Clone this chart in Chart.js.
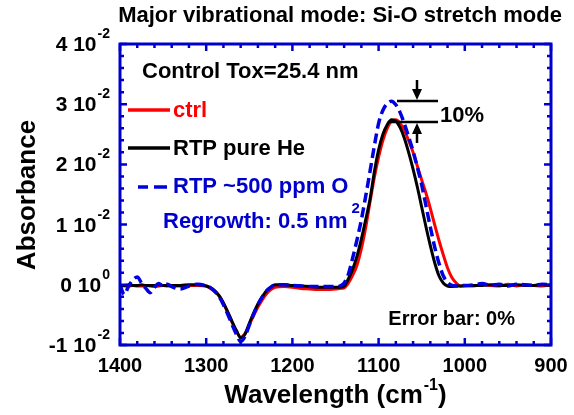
<!DOCTYPE html>
<html>
<head>
<meta charset="utf-8">
<script src="https://cdn.jsdelivr.net/npm/chart.js@4.4.1/dist/chart.umd.min.js"></script>
<style>
body { margin: 0; background: #fff; }
</style>
</head>
<body>
<canvas id="spectrum" width="574" height="415"></canvas>
<script>
// wavenumber (cm-1) and absorbance
var wavenumber = [1400,1395,1390,1385,1380,1375,1370,1365,1360,1355,1350,1345,1340,
  1330,1320,1310,
  1300,1295,1290,1285,1280,1275,1270,1265,1260,1255,1250,1245,1240,1235,1230,1225,1220,
  1210,1200,1190,1180,1170,1160,1150,
  1145,1140,1135,1130,1125,1120,1115,1110,1105,1100,1095,1090,1085,1080,1075,1070,1065,1060,1055,1050,1045,1040,1035,1030,1025,1020,1015,1010,1005,1000,
  990,980,970,960,950,940,930,920,910,900];

var ctrl = [-0.0001,-0.0002,-0.0002,-0.0001,-0.0002,-0.0002,-0.0001,-0.0002,-0.0003,-0.0002,-0.0001,-0.0002,-0.0002,
  -0.0002,-0.0001,-0.0001,
  -0.0002,-0.0006,-0.0011,-0.0019,-0.0031,-0.0046,-0.0062,-0.0077,-0.0087,-0.0081,-0.0066,-0.0051,-0.0037,-0.0025,-0.0015,-0.0008,-0.0004,
  -0.0003,-0.0004,-0.0006,-0.0007,-0.0008,-0.0008,-0.0007,
  -0.0006,-0.0005,0.0003,0.0016,0.0033,0.0060,0.0095,0.0137,0.0178,0.0212,0.0240,0.0260,0.0272,0.0274,0.0268,0.0256,0.0239,0.0220,0.0197,0.0174,0.0152,0.0127,0.0100,0.0074,0.0050,0.0028,0.0012,0.0003,-0.0002,-0.0002,
  -0.0002,0.0000,-0.0001,-0.0002,0.0001,-0.0002,0.0000,-0.0001,-0.0002,0.0000];

var pureHe = [-0.0001,-0.0001,0.0000,-0.0001,-0.0001,0.0000,-0.0001,-0.0001,-0.0001,0.0000,-0.0001,-0.0001,-0.0001,
  -0.0001,0.0000,0.0000,
  -0.0002,-0.0005,-0.0010,-0.0018,-0.0030,-0.0045,-0.0061,-0.0076,-0.0088,-0.0082,-0.0064,-0.0047,-0.0032,-0.0020,-0.0010,-0.0004,0.0000,
  0.0000,-0.0001,-0.0002,-0.0003,-0.0004,-0.0004,-0.0004,
  -0.0004,-0.0002,0.0010,0.0026,0.0048,0.0076,0.0108,0.0142,0.0187,0.0224,0.0250,0.0266,0.0274,0.0272,0.0261,0.0243,0.0219,0.0192,0.0162,0.0129,0.0096,0.0065,0.0037,0.0015,0.0003,-0.0002,-0.0003,-0.0002,-0.0002,-0.0001,
  -0.0001,-0.0001,0.0000,-0.0001,-0.0001,0.0000,-0.0001,-0.0001,0.0000,-0.0001];

var ppmO2 = [0.0000,-0.0016,-0.0002,0.0008,0.0013,0.0003,-0.0006,-0.0013,-0.0004,0.0002,-0.0002,0.0001,-0.0003,
  -0.0007,-0.0002,0.0001,
  -0.0002,-0.0005,-0.0011,-0.0020,-0.0033,-0.0049,-0.0066,-0.0082,-0.0094,-0.0086,-0.0067,-0.0049,-0.0033,-0.0020,-0.0010,-0.0004,0.0000,
  0.0000,-0.0001,-0.0002,-0.0003,-0.0003,-0.0003,-0.0003,
  -0.0002,0.0003,0.0018,0.0045,0.0075,0.0108,0.0147,0.0188,0.0230,0.0268,0.0290,0.0301,0.0305,0.0299,0.0286,0.0267,0.0245,0.0222,0.0195,0.0166,0.0131,0.0096,0.0063,0.0036,0.0015,0.0004,-0.0001,-0.0002,-0.0001,-0.0001,
  0.0000,0.0002,-0.0001,0.0001,-0.0002,0.0001,0.0000,-0.0001,0.0001,0.0000];

var xTicks = [1400, 1300, 1200, 1100, 1000, 900];
var yTicks = [-0.01, 0, 0.01, 0.02, 0.03, 0.04];
var yTickLabels = ['-1 10', '0 10', '1 10', '2 10', '3 10', '4 10'];
var yTickExps = ['-2', '0', '-2', '-2', '-2', '-2'];

var FONT = "'Liberation Sans', Arial, sans-serif";
var FRAME = '#0000cc';

function pts(ys) {
  return wavenumber.map(function (w, i) { return { x: w, y: ys[i] }; });
}

function bold(px) { return 'bold ' + px + 'px ' + FONT; }

var decor = {
  id: 'decor',
  afterDraw: function (chart) {
    var c = chart.ctx, a = chart.chartArea;
    var xs = chart.scales.x, ys = chart.scales.y;
    c.save();

    // frame
    c.strokeStyle = FRAME;
    c.lineWidth = 3;
    c.strokeRect(a.left, a.top, a.right - a.left, a.bottom - a.top);

    // inward ticks
    c.lineWidth = 2.5;
    c.beginPath();
    for (var w = 900; w <= 1400; w += 20) {
      var px = xs.getPixelForValue(w);
      var len = (w % 100 === 0) ? 7 : 4;
      c.moveTo(px, a.bottom); c.lineTo(px, a.bottom - len);
      c.moveTo(px, a.top); c.lineTo(px, a.top + len);
    }
    for (var k = -5; k <= 20; k++) {
      var v = k * 0.002;
      var py = ys.getPixelForValue(v);
      var l2 = (k % 5 === 0) ? 7 : 4;
      c.moveTo(a.left, py); c.lineTo(a.left + l2, py);
      c.moveTo(a.right, py); c.lineTo(a.right - l2, py);
    }
    c.stroke();

    c.fillStyle = '#000';
    // x tick labels
    c.font = bold(20);
    c.textAlign = 'center';
    c.textBaseline = 'alphabetic';
    xTicks.forEach(function (t) {
      c.fillText(String(t), xs.getPixelForValue(t), 372);
    });

    // y tick labels with exponent
    yTicks.forEach(function (t, i) {
      var py = ys.getPixelForValue(t);
      c.font = bold(14);
      c.textAlign = 'right';
      var ew = c.measureText(yTickExps[i]).width;
      c.fillText(yTickExps[i], 110, py - 6);
      c.font = bold(21);
      c.fillText(yTickLabels[i], 110 - ew - 1, py + 7);
    });

    // axis titles
    c.font = bold(26);
    c.textAlign = 'left';
    var t1 = 'Wavelength (cm', t2 = '-1', t3 = ')';
    var w1 = c.measureText(t1).width, w3 = c.measureText(t3).width;
    c.font = bold(16);
    var w2 = c.measureText(t2).width;
    var sx = 335 - (w1 + w2 + w3) / 2;
    c.font = bold(26);
    c.fillText(t1, sx, 403);
    c.fillText(t3, sx + w1 + w2 + 1, 403);
    c.font = bold(16);
    c.fillText(t2, sx + w1 + 1, 390);

    c.save();
    c.translate(35, 195);
    c.rotate(-Math.PI / 2);
    c.font = bold(26);
    c.textAlign = 'center';
    c.fillText('Absorbance', 0, 0);
    c.restore();

    // title
    c.font = bold(22);
    c.textAlign = 'center';
    c.fillText('Major vibrational mode: Si-O stretch mode', 340, 22);

    // annotations
    c.textAlign = 'left';
    c.font = bold(22);
    c.fillText('Control Tox=25.4 nm', 142, 78);

    c.lineWidth = 3.5;
    c.setLineDash([]);
    c.strokeStyle = '#ff0000';
    c.beginPath(); c.moveTo(128, 110); c.lineTo(170, 110); c.stroke();
    c.strokeStyle = '#000';
    c.beginPath(); c.moveTo(128, 148); c.lineTo(170, 148); c.stroke();
    c.strokeStyle = '#0000e0';
    c.beginPath(); c.moveTo(138, 187); c.lineTo(148, 187); c.moveTo(154, 187); c.lineTo(167, 187); c.stroke();

    c.fillStyle = '#ff0000';
    c.fillText('ctrl', 173, 117);
    c.fillStyle = '#000';
    c.fillText('RTP pure He', 173, 155);
    c.fillStyle = FRAME;
    c.fillText('RTP ~500 ppm O', 173, 193);
    var ow = c.measureText('RTP ~500 ppm O').width;
    c.font = bold(15);
    c.fillText('2', 173 + ow + 3, 213);
    c.font = bold(22);
    c.fillText('Regrowth: 0.5 nm', 163, 228);

    // 10% marker
    c.fillStyle = '#000';
    c.strokeStyle = '#000';
    c.lineWidth = 2.5;
    c.beginPath();
    c.moveTo(397, 101); c.lineTo(438, 101);
    c.moveTo(390, 122); c.lineTo(438, 122);
    c.moveTo(417, 80); c.lineTo(417, 90);
    c.moveTo(417, 133); c.lineTo(417, 143);
    c.stroke();
    c.beginPath();
    c.moveTo(412, 89); c.lineTo(422, 89); c.lineTo(417, 100); c.closePath();
    c.moveTo(412, 134); c.lineTo(422, 134); c.lineTo(417, 123); c.closePath();
    c.fill();
    c.font = bold(22);
    c.fillText('10%', 440, 122);

    c.font = bold(20);
    c.textAlign = 'right';
    c.fillText('Error bar: 0%', 515, 325);

    c.restore();
  }
};

var chart = new Chart(document.getElementById('spectrum').getContext('2d'), {
  type: 'line',
  data: {
    datasets: [
      { label: 'RTP ~500 ppm O2', data: pts(ppmO2), borderColor: '#0000e0', borderWidth: 3.5, borderDash: [10, 5], order: 0 },
      { label: 'RTP pure He', data: pts(pureHe), borderColor: '#000000', borderWidth: 3, order: 1 },
      { label: 'ctrl', data: pts(ctrl), borderColor: '#ff0000', borderWidth: 3, order: 2 }
    ]
  },
  options: {
    responsive: false,
    devicePixelRatio: 1,
    animation: false,
    layout: { padding: { left: 120, right: 23, top: 44, bottom: 70 } },
    elements: {
      point: { radius: 0 },
      line: { cubicInterpolationMode: 'monotone', fill: false }
    },
    scales: {
      x: { type: 'linear', reverse: true, min: 900, max: 1400, display: false },
      y: { type: 'linear', min: -0.01, max: 0.04, display: false }
    },
    plugins: { legend: { display: false }, tooltip: { enabled: false } }
  },
  plugins: [decor]
});
</script>
</body>
</html>
